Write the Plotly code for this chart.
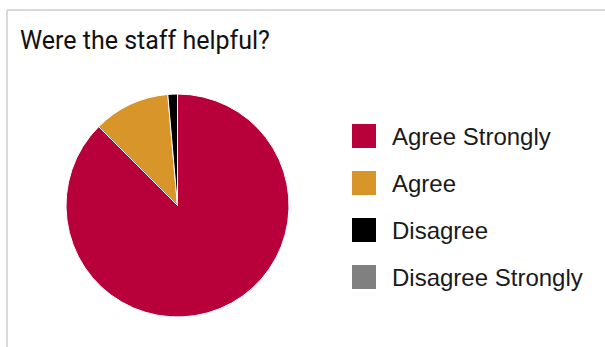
import plotly.graph_objects as go

# Survey responses
labels = ["Agree Strongly", "Agree", "Disagree", "Disagree Strongly"]
counts = [63, 8, 1, 0]
colors = ["#b8003a", "#d8962a", "#000000", "#808080"]
title_text = "Were the staff helpful?"

W, H = 605, 347

fig = go.Figure()
fig.add_trace(go.Pie(
    labels=labels,
    values=counts,
    sort=False,
    direction="clockwise",
    rotation=0,
    marker=dict(colors=colors, line=dict(color="white", width=1)),
    textinfo="none",
    hoverinfo="label+value+percent",
    showlegend=False,
    domain=dict(x=[66 / W, 289 / W], y=[30 / H, 253 / H]),
))

# Panel frame: top and left rules
shapes = [
    dict(type="line", xref="paper", yref="paper",
         x0=7 / W, x1=1, y0=1 - 10 / H, y1=1 - 10 / H,
         line=dict(color="#dadada", width=2)),
    dict(type="line", xref="paper", yref="paper",
         x0=7 / W, x1=7 / W, y0=0, y1=1 - 10 / H,
         line=dict(color="#dadada", width=2)),
]

annotations = [
    dict(text=title_text, xref="paper", yref="paper",
         x=18 / W, y=1 - 41 / H, xanchor="left", yanchor="middle",
         showarrow=False,
         font=dict(family="Roboto, Liberation Sans, Arial", size=25, color="#111111")),
]

# Legend drawn as large swatches with labels
row_y0 = 136
row_step = 47
sw = 24
for i, (lab, col) in enumerate(zip(labels, colors)):
    cy = row_y0 + i * row_step
    shapes.append(dict(type="rect", xref="paper", yref="paper",
                       x0=352 / W, x1=(352 + sw) / W,
                       y0=1 - (cy + sw / 2) / H, y1=1 - (cy - sw / 2) / H,
                       fillcolor=col, line=dict(width=0)))
    annotations.append(dict(text=lab, xref="paper", yref="paper",
                            x=390 / W, y=1 - cy / H, xanchor="left", yanchor="middle",
                            showarrow=False,
                            font=dict(family="Liberation Sans, Arial", size=24, color="#1a1a1a")))

fig.update_layout(
    width=W, height=H,
    margin=dict(l=0, r=0, t=0, b=0),
    paper_bgcolor="white",
    plot_bgcolor="white",
    shapes=shapes,
    annotations=annotations,
)

fig.write_html("out.html")
